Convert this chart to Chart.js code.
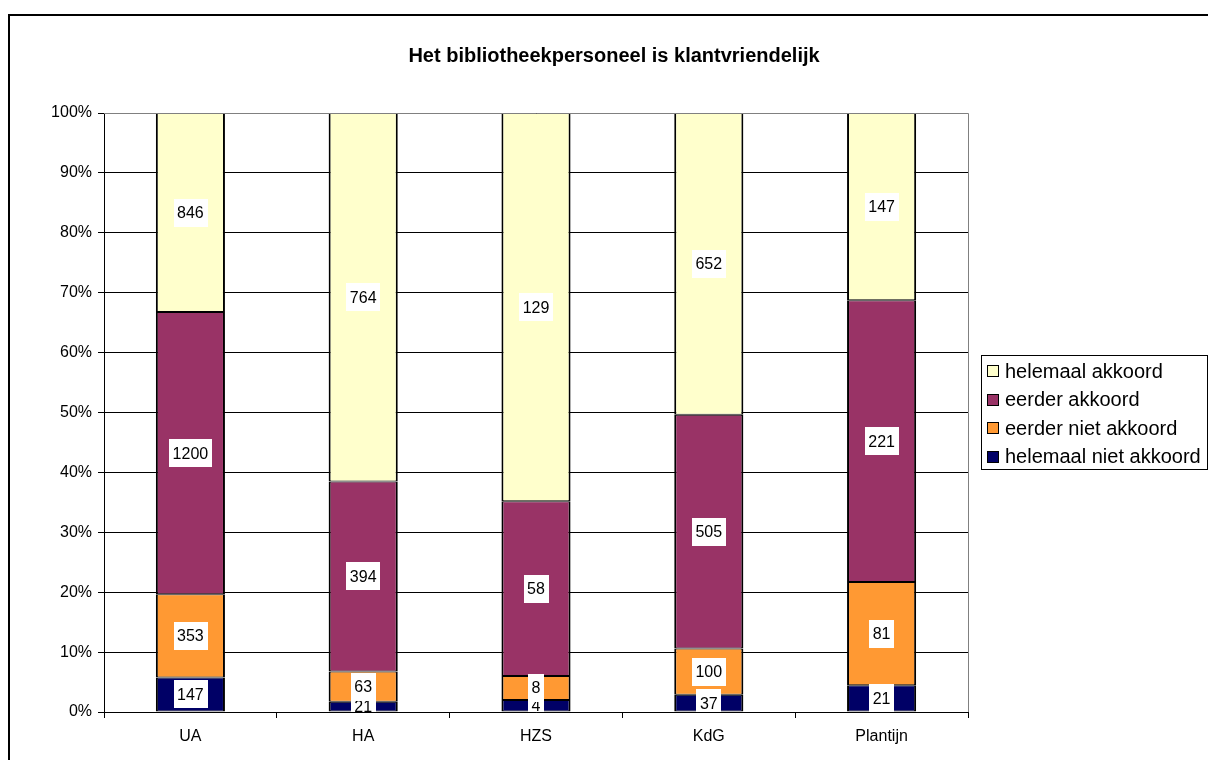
<!DOCTYPE html>
<html>
<head>
<meta charset="utf-8">
<script src="https://cdn.jsdelivr.net/npm/chart.js@4.4.0/dist/chart.umd.min.js"></script>
<style>
  html, body { margin: 0; padding: 0; background: #fff; overflow: hidden; }
  canvas { display: block; }
</style>
</head>
<body>
<canvas id="chart" width="1208" height="760"></canvas>
<script>
// --- data ---
const categories = ['UA', 'HA', 'HZS', 'KdG', 'Plantijn'];
const seriesNames = ['helemaal niet akkoord', 'eerder niet akkoord', 'eerder akkoord', 'helemaal akkoord'];
const helemaalNiet = [147, 21, 4, 37, 21];
const eerderNiet = [353, 63, 8, 100, 81];
const eerderAkkoord = [1200, 394, 58, 505, 221];
const helemaalAkkoord = [846, 764, 129, 652, 147];
const seriesColors = ['#000066', '#FF9933', '#993366', '#FFFFCC'];
const yTicks = [0, 10, 20, 30, 40, 50, 60, 70, 80, 90, 100];
const title = 'Het bibliotheekpersoneel is klantvriendelijk';

const counts = [helemaalNiet, eerderNiet, eerderAkkoord, helemaalAkkoord];
const totals = categories.map((_, i) => counts.reduce((s, arr) => s + arr[i], 0));
const FONT = "'Liberation Sans', Arial, sans-serif";

const datasets = counts.map((arr, k) => ({
  label: seriesNames[k],
  data: arr.map((v, i) => v / totals[i] * 100),
  raw: arr,
  backgroundColor: seriesColors[k],
  borderColor: '#000',
  borderWidth: { left: 2, right: 2, top: 1, bottom: 1 },
  borderSkipped: false,
  barPercentage: 0.4,
  categoryPercentage: 1
}));

// labels, title, legend, frame
const extras = {
  id: 'extras',
  afterDatasetsDraw(chart) {
    const ctx = chart.ctx, ca = chart.chartArea;
    ctx.save();
    ctx.beginPath();
    ctx.rect(ca.left, ca.top, ca.right - ca.left, ca.bottom - ca.top);
    ctx.clip();
    ctx.font = '16px ' + FONT;
    ctx.textAlign = 'center';
    ctx.textBaseline = 'middle';
    chart.data.datasets.forEach((ds, k) => {
      chart.getDatasetMeta(k).data.forEach((bar, i) => {
        const txt = String(ds.raw[i]);
        const cy = (bar.y + bar.base) / 2;
        const w = ctx.measureText(txt).width + 7;
        ctx.fillStyle = '#fff';
        ctx.fillRect(Math.round(bar.x - w / 2), Math.round(cy - 14), Math.round(w), 28);
        ctx.fillStyle = '#000';
        ctx.fillText(txt, bar.x, cy + 1);
      });
    });
    ctx.restore();
  },
  afterDraw(chart) {
    const ctx = chart.ctx, ca = chart.chartArea;
    ctx.save();
    // plot frame top/right
    ctx.strokeStyle = '#808080';
    ctx.lineWidth = 1;
    ctx.beginPath();
    ctx.moveTo(ca.left, ca.top + 0.5);
    ctx.lineTo(ca.right + 0.5, ca.top + 0.5);
    ctx.lineTo(ca.right + 0.5, ca.bottom);
    ctx.stroke();
    // title
    ctx.fillStyle = '#000';
    ctx.font = 'bold 20px ' + FONT;
    ctx.textAlign = 'center';
    ctx.textBaseline = 'middle';
    ctx.fillText(title, 614, 56);
    // legend
    ctx.strokeStyle = '#000';
    ctx.lineWidth = 1;
    ctx.strokeRect(981.5, 355.5, 226, 114);
    ctx.font = '20px ' + FONT;
    ctx.textAlign = 'left';
    const order = [3, 2, 1, 0];
    order.forEach((k, r) => {
      const cy = 371 + r * 28.5;
      ctx.fillStyle = seriesColors[k];
      ctx.fillRect(987, Math.round(cy - 6), 12, 12);
      ctx.strokeRect(987.5, Math.round(cy - 6) + 0.5, 11, 11);
      ctx.fillStyle = '#000';
      ctx.fillText(seriesNames[k], 1005, cy + 1);
    });
    // outer frame
    ctx.lineWidth = 2;
    ctx.strokeRect(9, 15, 1300, 800);
    ctx.restore();
  }
};

new Chart(document.getElementById('chart'), {
  type: 'bar',
  data: { labels: categories, datasets },
  options: {
    responsive: false,
    animation: false,
    layout: { padding: { left: 0, top: 113, right: 240, bottom: 0 } },
    plugins: { legend: { display: false }, tooltip: { enabled: false }, title: { display: false } },
    scales: {
      x: {
        stacked: true,
        afterFit: s => { s.height = 48; },
        grid: { drawOnChartArea: false, tickLength: 6, color: '#000', offset: true },
        border: { color: '#000', width: 1 },
        ticks: { color: '#000', font: { family: FONT, size: 16 }, padding: 9, maxRotation: 0 }
      },
      y: {
        stacked: true,
        min: 0,
        max: 100,
        afterFit: s => { s.width = 104; },
        afterBuildTicks: s => { s.ticks = yTicks.map(v => ({ value: v })); },
        grid: { color: '#000', lineWidth: 1, tickLength: 6 },
        border: { color: '#000', width: 1 },
        ticks: { color: '#000', font: { family: FONT, size: 16 }, padding: 6, callback: v => v + '%' }
      }
    }
  },
  plugins: [extras]
});
</script>
</body>
</html>
